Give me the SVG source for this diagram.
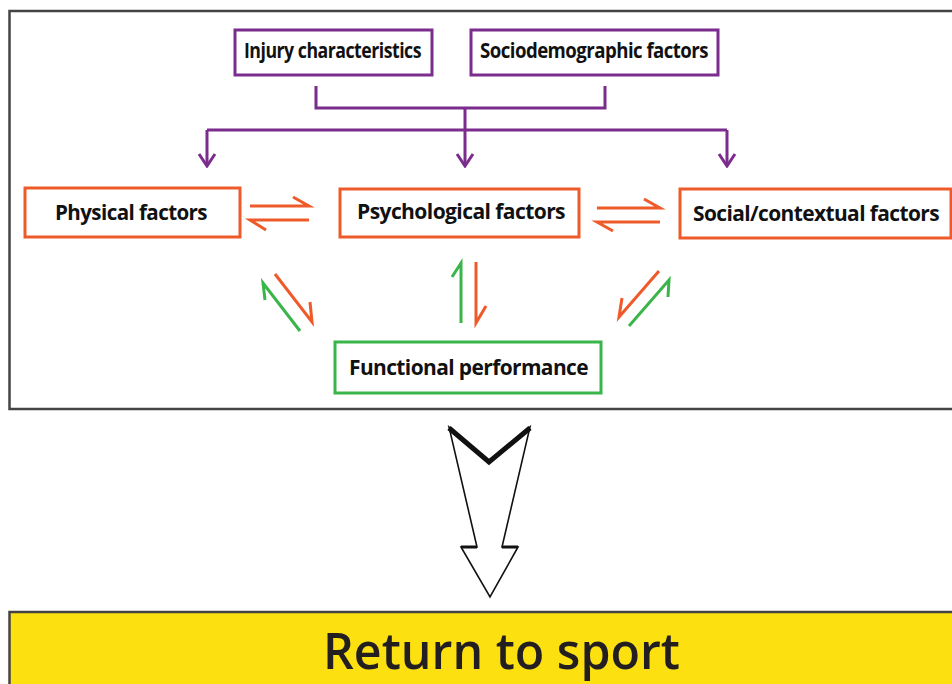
<svg xmlns="http://www.w3.org/2000/svg" width="952" height="684" viewBox="0 0 952 684">
<defs>
<style>
.frame{fill:#fff;stroke:#444;stroke-width:2.5}
.pbox{fill:#fff;stroke:#7b2d8e;stroke-width:3}
.obox{fill:#fff;stroke:#ef5a2a;stroke-width:3}
.gbox{fill:#fff;stroke:#3ab54a;stroke-width:3}
.lbl{font-family:"Open Sans","Liberation Sans",sans-serif;font-weight:700;font-size:21px;fill:#111;letter-spacing:-0.6px}
.pl{fill:none;stroke:#7b2d8e;stroke-width:3}
.oa{fill:none;stroke:#ef5a2a;stroke-width:3}
.ga{fill:none;stroke:#3ab54a;stroke-width:3}
.big{fill:#fff;stroke:#111;stroke-width:1.6;stroke-linejoin:miter}
.bigthick{fill:none;stroke:#111;stroke-width:5;stroke-linejoin:miter}
</style>
<marker id="pv" markerUnits="userSpaceOnUse" viewBox="-14 -10 16 20" refX="0" refY="0" markerWidth="16" markerHeight="20" orient="auto">
<path d="M-12,-8 L0,0 L-12,8" fill="none" stroke="#7b2d8e" stroke-width="3"/>
</marker>
</defs>
<rect x="0" y="0" width="952" height="684" fill="#fff"/>
<rect class="frame" x="9.5" y="11" width="960" height="398"/>

<g id="injury">
<rect class="pbox" x="235" y="30" width="197" height="45"/>
<text class="lbl" x="244" y="58" textLength="177" lengthAdjust="spacingAndGlyphs">Injury characteristics</text>
</g>
<g id="sociodemographic">
<rect class="pbox" x="471" y="30" width="247" height="45"/>
<text class="lbl" x="480" y="58" textLength="228" lengthAdjust="spacingAndGlyphs">Sociodemographic factors</text>
</g>
<g id="physical">
<rect class="obox" x="25" y="188" width="215" height="49"/>
<text class="lbl" x="55" y="220" textLength="152" lengthAdjust="spacingAndGlyphs">Physical factors</text>
</g>
<g id="psychological">
<rect class="obox" x="340" y="189" width="239" height="48"/>
<text class="lbl" x="357" y="219" textLength="208" lengthAdjust="spacingAndGlyphs">Psychological factors</text>
</g>
<g id="social">
<rect class="obox" x="680" y="189" width="271" height="49"/>
<text class="lbl" x="693" y="221" textLength="246" lengthAdjust="spacingAndGlyphs">Social/contextual factors</text>
</g>
<g id="functional">
<rect class="gbox" x="335" y="342" width="266" height="51"/>
<text class="lbl" x="349" y="375" textLength="239" lengthAdjust="spacingAndGlyphs">Functional performance</text>
</g>

<g id="connectors">
<path class="pl" d="M316,86 V108 H605 V86"/>
<path class="pl" d="M465,108 V130"/>
<path class="pl" d="M207,130 H727"/>
<path class="pl" d="M207,130 V166" marker-end="url(#pv)"/>
<path class="pl" d="M465,130 V166" marker-end="url(#pv)"/>
<path class="pl" d="M727,130 V166" marker-end="url(#pv)"/>

<path class="oa" d="M250,206 H309 L293,197"/>
<path class="oa" d="M309,220 H250 L266,230"/>
<path class="oa" d="M597,208 H660 L644,199"/>
<path class="oa" d="M660,222 H597 L613,231"/>

<path class="oa" d="M275,274 L312,322 L310,302"/>
<path class="ga" d="M300,331 L263,283 L265,300"/>
<path class="ga" d="M461,323 V263 L452,277"/>
<path class="oa" d="M476,262 V323 L486,306"/>
<path class="oa" d="M659,271 L619,317 L622,298"/>
<path class="ga" d="M629,326 L669,280 L668,297"/>
</g>

<g id="bigarrow">
<path class="big" d="M449,427 L489,461 L530,427 L502,547 L518,547 L490,597 L461,547 L477,547 Z"/>
<path class="bigthick" d="M449,428 L489,462 L530,428"/>
<path d="M461,547 H477 M502,547 H518" fill="none" stroke="#111" stroke-width="3"/>
</g>

<g id="return">
<rect x="9.5" y="612" width="960" height="90" fill="#fde010" stroke="#444" stroke-width="2.5"/>
<text x="323" y="669" font-family="'Open Sans','Liberation Sans',sans-serif" font-size="50" font-weight="600" fill="#231f20" textLength="357" lengthAdjust="spacingAndGlyphs">Return to sport</text>
</g>
</svg>
